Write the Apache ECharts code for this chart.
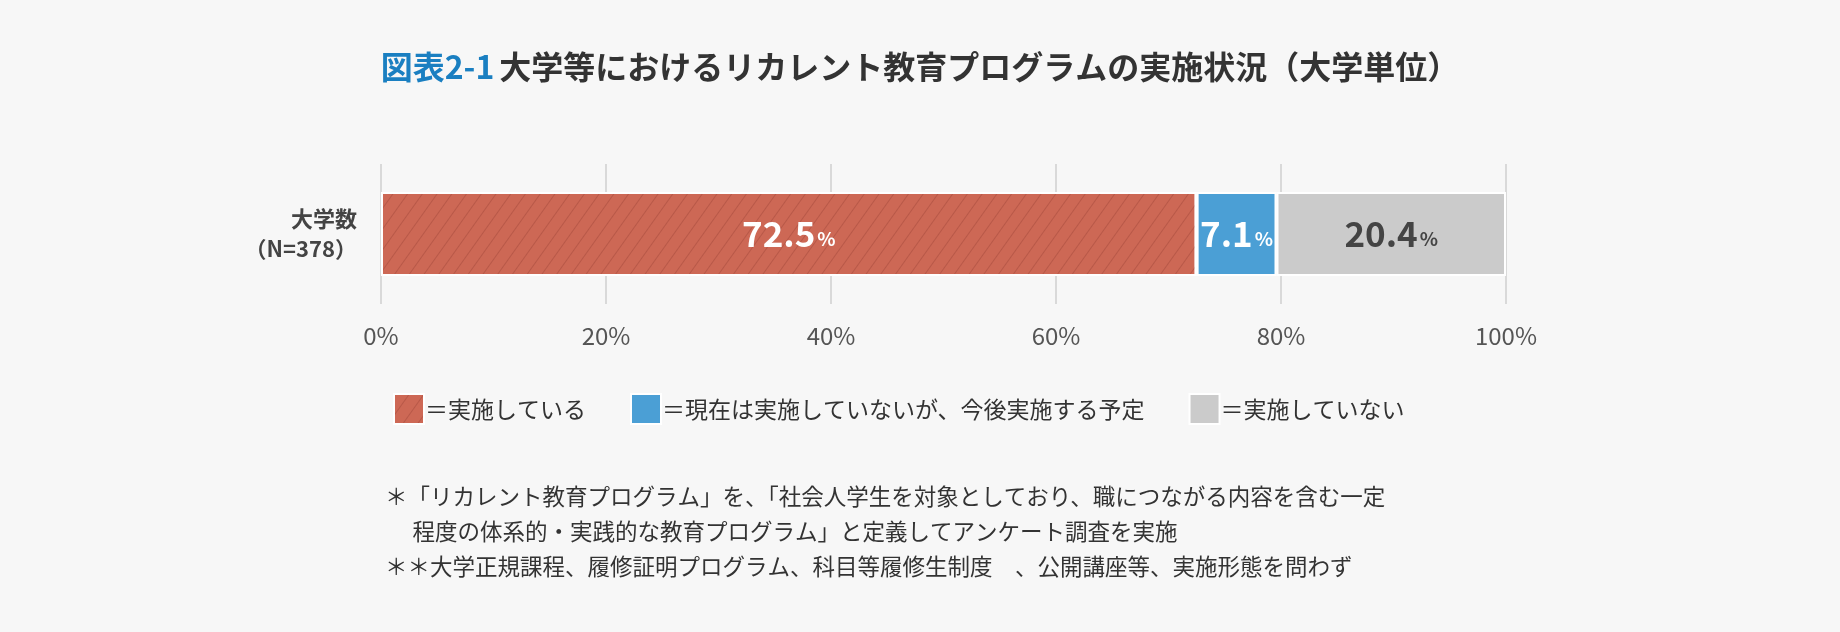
<!DOCTYPE html>
<html><head><meta charset="utf-8">
<script src="https://cdn.jsdelivr.net/npm/echarts@6/dist/echarts.min.js"></script>
<style>html,body{margin:0;background:#f7f7f7}#main{width:1840px;height:632px}</style>
</head><body><div id="main"></div>
<script>
var categories = ['大学数\n（N=378）'];
var seriesNames = ['＝実施している', '＝現在は実施していないが、今後実施する予定', '＝実施していない'];
var seriesValues = [[72.5], [7.1], [20.4]];
var seriesColors = ['#cd6855', '#4b9fd5', '#cbcbcb'];
var labelColors = ['#fff', '#fff', '#444'];
var notes = [
	'＊「リカレント教育プログラム」を、「社会人学生を対象としており、職につながる内容を含む一定',
	'　 程度の体系的・実践的な教育プログラム」と定義してアンケート調査を実施',
	'＊＊大学正規課程、履修証明プログラム、科目等履修生制度　、公開講座等、実施形態を問わず'
];
var FONT = '"Noto Sans CJK JP", "Noto Sans", sans-serif';

var series = [];
for (let i = 0; i < seriesNames.length; i++) {
	let s = {
		name: seriesNames[i],
		type: 'bar',
		stack: 'all',
		barWidth: 84,
		data: seriesValues[i],
		itemStyle: { color: seriesColors[i], borderColor: '#fff', borderWidth: 2 },
		label: {
			show: true,
			position: 'inside',
			formatter: '{a|{c}}{b|%}',
			rich: {
				a: { fontSize: 35, fontWeight: 'bold', color: labelColors[i], fontFamily: FONT },
				b: { fontSize: 19, fontWeight: 'bold', color: labelColors[i], fontFamily: FONT, padding: [10, 0, 0, 2] }
			}
		}
	};
	if (i == 0) {
		s.itemStyle.decal = {
			symbol: 'rect',
			color: 'rgba(120,40,30,0.25)',
			dashArrayX: [1, 0],
			dashArrayY: [1, 11],
			rotation: -Math.PI / 3.3
		};
	}
	series.push(s);
}

var graphics = [];
for (let i = 0; i < notes.length; i++) {
	graphics.push({
		type: 'text', left: 385, top: 485 + i * 35,
		style: { text: notes[i], fontSize: 22.5, fill: '#333', fontFamily: FONT }
	});
}

option = {
	backgroundColor: '#f7f7f7',
	title: {
		left: 'center', top: 46,
		text: '{a|図表2-1} {b|大学等におけるリカレント教育プログラムの実施状況（大学単位）}',
		textStyle: {
			rich: {
				a: { fontSize: 32, fontWeight: 'bold', color: '#1a7fc1', fontFamily: FONT },
				b: { fontSize: 32, fontWeight: 'bold', color: '#333', fontFamily: FONT }
			}
		}
	},
	legend: {
		left: 388, top: 388,
		itemWidth: 30, itemHeight: 30, itemGap: 44,
		icon: 'rect',
		textStyle: { fontSize: 23, color: '#333', fontFamily: FONT, padding: [0, 0, 0, -4] },
		data: seriesNames
	},
	grid: { left: 381, width: 1125, top: 164, height: 140 },
	xAxis: {
		type: 'value', min: 0, max: 100, interval: 20,
		axisLabel: { formatter: '{value}%', fontSize: 24, color: '#555', margin: 20, fontFamily: FONT },
		splitLine: { show: true, lineStyle: { color: '#cfcfcf', width: 1.5 } },
		axisLine: { show: false }, axisTick: { show: false }
	},
	yAxis: {
		type: 'category', data: categories,
		axisLine: { show: false }, axisTick: { show: false },
		axisLabel: { fontSize: 22, fontWeight: 'bold', color: '#444', lineHeight: 30, margin: 24, fontFamily: FONT }
	},
	graphic: graphics,
	series: series
};
var myChart = echarts.init(document.getElementById('main'));
myChart.setOption(option);
</script></body></html>
